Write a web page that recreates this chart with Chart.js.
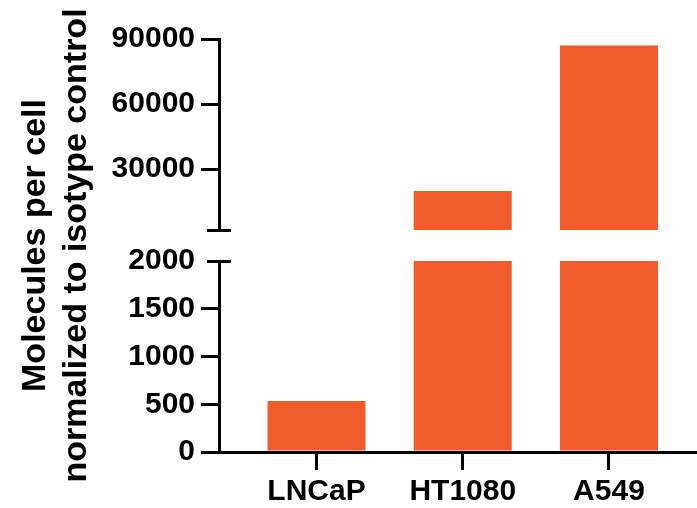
<!DOCTYPE html>
<html>
<head>
<meta charset="utf-8">
<title>Molecules per cell</title>
<script src="https://cdn.jsdelivr.net/npm/chart.js@4.4.1/dist/chart.umd.min.js"></script>
<style>
    html, body { margin: 0; padding: 0; background: #fff; }
    #wrap { width: 697px; height: 508px; }
</style>
</head>
<body>
<div id="wrap"><canvas id="myChart" width="697" height="508"></canvas></div>
<script>
// values
const categories = ['LNCaP', 'HT1080', 'A549'];
const molecules = [535, 20000, 87000];
const breakAt = 2000;
const lowerTicks = [0, 500, 1000, 1500, 2000];
const upperTicks = [30000, 60000, 90000];
const upperMax = 90000;
const yTitleLines = ['Molecules per cell', 'normalized to isotype control'];

const barColor = '#F15A2B';
const fontFamily = '"Liberation Sans", Arial, Helvetica, sans-serif';

document.addEventListener('DOMContentLoaded', function () {
    Chart.defaults.font.family = fontFamily;
    Chart.defaults.color = '#000';

    // short cross bars where the y axis is broken
    const axisBreak = {
        id: 'axisBreak',
        afterDraw(chart) {
            const ctx = chart.ctx;
            const x = chart.chartArea.left;
            const ys = [
                chart.scales.yTop.getPixelForValue(breakAt),
                chart.scales.yBot.getPixelForValue(breakAt)
            ];
            ctx.save();
            ctx.strokeStyle = '#000';
            ctx.lineWidth = 3;
            ys.forEach(y => {
                ctx.beginPath();
                ctx.moveTo(x - 12, Math.round(y) + 0.5);
                ctx.lineTo(x + 12, Math.round(y) + 0.5);
                ctx.stroke();
            });
            ctx.restore();
        }
    };

    // y title spanning both parts of the axis
    const yTitle = {
        id: 'yTitle',
        afterDraw(chart) {
            const ctx = chart.ctx;
            const {top, bottom} = chart.chartArea;
            ctx.save();
            ctx.translate(45, (top + bottom) / 2);
            ctx.rotate(-Math.PI / 2);
            ctx.font = 'bold 34px ' + fontFamily;
            ctx.fillStyle = '#000';
            ctx.textAlign = 'center';
            ctx.textBaseline = 'alphabetic';
            yTitleLines.forEach((line, i) => ctx.fillText(line, 0, i * 41));
            ctx.restore();
        }
    };

    const yWidth = s => { s.width = 219; };
    const tickFont = {size: 30, weight: 'bold'};
    const plain = v => String(v);

    const ctx = document.getElementById('myChart').getContext('2d');
    new Chart(ctx, {
        type: 'bar',
        data: {
            labels: categories.map((c, i) => i),
            datasets: [{
                label: 'lower',
                data: molecules.map(v => Math.min(v, breakAt)),
                xAxisID: 'x',
                yAxisID: 'yBot',
                backgroundColor: barColor,
                borderWidth: 0,
                grouped: false,
                barPercentage: 0.67,
                categoryPercentage: 1
            }, {
                label: 'upper',
                data: molecules.map(v => v > breakAt ? [breakAt, v] : null),
                xAxisID: 'x',
                yAxisID: 'yTop',
                backgroundColor: barColor,
                borderWidth: 0,
                grouped: false,
                barPercentage: 0.67,
                categoryPercentage: 1
            }]
        },
        options: {
            responsive: false,
            animation: false,
            layout: {padding: {top: 39, left: 0, right: 0, bottom: 0}},
            plugins: {
                legend: {display: false},
                tooltip: {enabled: false}
            },
            scales: {
                x: {
                    type: 'linear',
                    position: 'bottom',
                    offset: false,
                    min: -0.667,
                    max: 2.602,
                    grid: {offset: false, drawOnChartArea: false, tickLength: 18, lineWidth: 3, color: '#000'},
                    border: {display: true, width: 3, color: '#000', z: 1},
                    ticks: {
                        font: tickFont,
                        color: '#000',
                        padding: 4,
                        maxRotation: 0,
                        autoSkip: false,
                        callback: v => categories[v]
                    },
                    afterBuildTicks: s => { s.ticks = categories.map((c, i) => ({value: i})); },
                    afterFit: s => { s.height = 56; }
                },
                yBot: {
                    type: 'linear',
                    position: 'left',
                    stack: 'y',
                    stackWeight: 191,
                    min: 0,
                    max: breakAt,
                    grid: {
                        drawOnChartArea: false,
                        tickLength: 18,
                        lineWidth: 3,
                        color: c => (c.tick && c.tick.value === breakAt) ? 'rgba(0,0,0,0)' : '#000'
                    },
                    border: {display: true, width: 3, color: '#000', z: 1},
                    ticks: {font: tickFont, color: '#000', padding: 6, autoSkip: false, callback: plain},
                    afterBuildTicks: s => { s.ticks = lowerTicks.map(v => ({value: v})); },
                    afterFit: yWidth
                },
                yGap: {
                    type: 'linear',
                    position: 'left',
                    stack: 'y',
                    stackWeight: 31,
                    grid: {display: false},
                    border: {display: false},
                    ticks: {display: false},
                    afterFit: yWidth
                },
                yTop: {
                    type: 'linear',
                    position: 'left',
                    stack: 'y',
                    stackWeight: 191,
                    min: breakAt,
                    max: upperMax,
                    grid: {drawOnChartArea: false, tickLength: 18, lineWidth: 3, color: '#000'},
                    border: {display: true, width: 3, color: '#000', z: 1},
                    ticks: {font: tickFont, color: '#000', padding: 6, autoSkip: false, callback: plain},
                    afterBuildTicks: s => { s.ticks = upperTicks.map(v => ({value: v})); },
                    afterFit: yWidth
                }
            }
        },
        plugins: [axisBreak, yTitle]
    });
});
</script>
</body>
</html>
